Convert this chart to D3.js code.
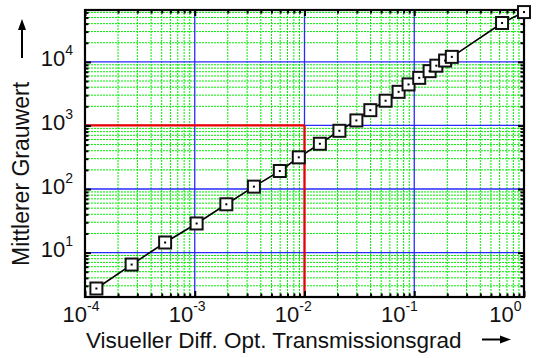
<!DOCTYPE html>
<html>
<head>
<meta charset="utf-8">
<script src="https://cdn.jsdelivr.net/npm/d3@7"></script>
<style>
  html, body { margin: 0; padding: 0; background: #fff; }
  svg { display: block; font-family: "Liberation Sans", Arial, sans-serif; }
</style>
</head>
<body>
<svg id="chart" width="541" height="358"></svg>
<script>
// Visual diffuse optical transmission vs. mean grey value
const transmission = [1.27e-4, 2.66e-4, 5.37e-4, 1.04e-3, 1.94e-3, 3.46e-3, 5.96e-3, 8.87e-3,
                      1.38e-2, 2.08e-2, 2.97e-2, 3.98e-2, 5.48e-2, 7.20e-2, 8.87e-2, 0.111,
                      0.138, 0.159, 0.191, 0.220, 0.631, 1.0];
const grauwert = [2.72, 6.48, 14.4, 28.7, 57.5, 109, 192, 315,
                  515, 824, 1200, 1740, 2450, 3380, 4420, 5610,
                  7150, 8720, 10500, 12000, 40900, 60800];

const xDomain = [1e-4, 1];
const yDomain = [2, 65536];
const xMajor = [1e-4, 1e-3, 1e-2, 1e-1, 1];
const xMajorExp = ["-4", "-3", "-2", "-1", "0"];
const yMajor = [10, 100, 1000, 10000];
const yMajorExp = ["1", "2", "3", "4"];
const refPoint = [0.01, 1000];   // highlighted reading

const xTitle = "Visueller Diff. Opt. Transmissionsgrad";
const yTitle = "Mittlerer Grauwert";

const svg = d3.select("#chart");
const m = { left: 85, right: 17, top: 10, bottom: 61 };
const W = 541, H = 358;
const x = d3.scaleLog().domain(xDomain).range([m.left, W - m.right]);
const y = d3.scaleLog().domain(yDomain).range([H - m.bottom, m.top]);
const [x0, x1] = x.range();
const [y0, y1] = y.range();

// minor positions 2..9 within each decade
function minors(domain) {
  const out = [];
  for (let d = Math.floor(Math.log10(domain[0])); d <= Math.ceil(Math.log10(domain[1])); d++) {
    for (let k = 2; k <= 9; k++) {
      const v = k * Math.pow(10, d);
      if (v > domain[0] && v < domain[1]) out.push(v);
    }
  }
  return out;
}
const xMinor = minors(xDomain);
const yMinor = minors(yDomain);

svg.append("rect").attr("x", x0).attr("y", y1).attr("width", x1 - x0).attr("height", y0 - y1)
  .attr("fill", "#fff");

// minor grid (green dotted)
const grid = svg.append("g").attr("stroke", "#00ee00").attr("stroke-width", 1)
  .attr("stroke-dasharray", "2,1").attr("fill", "none");
grid.selectAll("line.gx").data(xMinor).join("line")
  .attr("x1", d => x(d)).attr("x2", d => x(d)).attr("y1", y0).attr("y2", y1);
grid.selectAll("line.gy").data(yMinor).join("line")
  .attr("y1", d => y(d)).attr("y2", d => y(d)).attr("x1", x0).attr("x2", x1);

// decade grid (blue)
const major = svg.append("g").attr("stroke", "#2a2aff").attr("stroke-width", 1.3);
major.selectAll("line.mx").data(xMajor.filter(v => v > xDomain[0] && v < xDomain[1])).join("line")
  .attr("x1", d => x(d)).attr("x2", d => x(d)).attr("y1", y0).attr("y2", y1);
major.selectAll("line.my").data(yMajor).join("line")
  .attr("y1", d => y(d)).attr("y2", d => y(d)).attr("x1", x0).attr("x2", x1);

// reference reading (red)
const ref = svg.append("g").attr("stroke", "#ee0000").attr("stroke-width", 2.2);
ref.append("line").attr("x1", x0).attr("x2", x(refPoint[0]))
  .attr("y1", y(refPoint[1])).attr("y2", y(refPoint[1]));
ref.append("line").attr("x1", x(refPoint[0])).attr("x2", x(refPoint[0]))
  .attr("y1", y(refPoint[1])).attr("y2", y0);

// inward ticks on all four sides
function tickAxis(gen, vals, size, tx, ty) {
  const g = svg.append("g").attr("transform", `translate(${tx},${ty})`)
    .call(gen.tickValues(vals).tickSize(size).tickFormat(""));
  g.select(".domain").remove();
  g.selectAll(".tick line").attr("stroke", "#000").attr("stroke-width", 2);
  g.selectAll("text").remove();
}
tickAxis(d3.axisBottom(x), xMajor, -6, 0, y0);
tickAxis(d3.axisBottom(x), xMinor, -3.5, 0, y0);
tickAxis(d3.axisTop(x), xMajor, -6, 0, y1);
tickAxis(d3.axisTop(x), xMinor, -3.5, 0, y1);
tickAxis(d3.axisLeft(y), yMajor, -6, x0, 0);
tickAxis(d3.axisLeft(y), yMinor, -3.5, x0, 0);
tickAxis(d3.axisRight(y), yMajor, -6, x1, 0);
tickAxis(d3.axisRight(y), yMinor, -3.5, x1, 0);

// frame
svg.append("rect").attr("x", x0).attr("y", y1).attr("width", x1 - x0).attr("height", y0 - y1)
  .attr("fill", "none").attr("stroke", "#000").attr("stroke-width", 2.2);

// tick labels: 10 with superscript exponent
const xLabelPos = d3.scaleLog().domain(xDomain).range([x0 - 4, x1 - 18.5]);
const xl = svg.append("g").attr("font-size", 22).attr("fill", "#111");
xMajor.forEach((v, i) => {
  const t = xl.append("text").attr("x", xLabelPos(v)).attr("y", y0 + 25).attr("text-anchor", "middle");
  t.append("tspan").text("10");
  t.append("tspan").attr("font-size", 14).attr("dy", -11).text(xMajorExp[i]);
});
const yl = svg.append("g").attr("font-size", 22).attr("fill", "#111");
yMajor.forEach((v, i) => {
  const t = yl.append("text").attr("x", x0 - 12).attr("y", y(v) + 4.5).attr("text-anchor", "end");
  t.append("tspan").text("10");
  t.append("tspan").attr("font-size", 14).attr("dy", -11).text(yMajorExp[i]);
});

// axis titles with arrows
svg.append("text").attr("x", 86).attr("y", 347.5).attr("font-size", 22.5).attr("fill", "#111")
  .text(xTitle);
svg.append("line").attr("x1", 482).attr("x2", 503).attr("y1", 339.5).attr("y2", 339.5)
  .attr("stroke", "#000").attr("stroke-width", 2);
svg.append("path").attr("d", "M 511 339.5 L 500 335.5 L 500 343.5 Z").attr("fill", "#000");

svg.append("text").attr("transform", "translate(28.5,266) rotate(-90)")
  .attr("font-size", 23).attr("fill", "#111").text(yTitle);
svg.append("line").attr("x1", 22).attr("x2", 22).attr("y1", 58).attr("y2", 28)
  .attr("stroke", "#000").attr("stroke-width", 2);
svg.append("path").attr("d", "M 22 19 L 18 30 L 26 30 Z").attr("fill", "#000");

// measurement series
const pts = transmission.map((t, i) => [x(t), y(grauwert[i])]);
svg.append("path").attr("d", d3.line()(pts)).attr("fill", "none")
  .attr("stroke", "#000").attr("stroke-width", 1.6);
const mk = svg.append("g");
mk.selectAll("rect.box").data(pts).join("rect").attr("class", "box")
  .attr("x", d => d[0] - 6).attr("y", d => d[1] - 6).attr("width", 12).attr("height", 12)
  .attr("fill", "#fff").attr("stroke", "#111").attr("stroke-width", 2);
mk.selectAll("rect.dot").data(pts).join("rect").attr("class", "dot")
  .attr("x", d => d[0] - 1).attr("y", d => d[1] - 1).attr("width", 2).attr("height", 2)
  .attr("fill", "#000");
</script>
</body>
</html>
